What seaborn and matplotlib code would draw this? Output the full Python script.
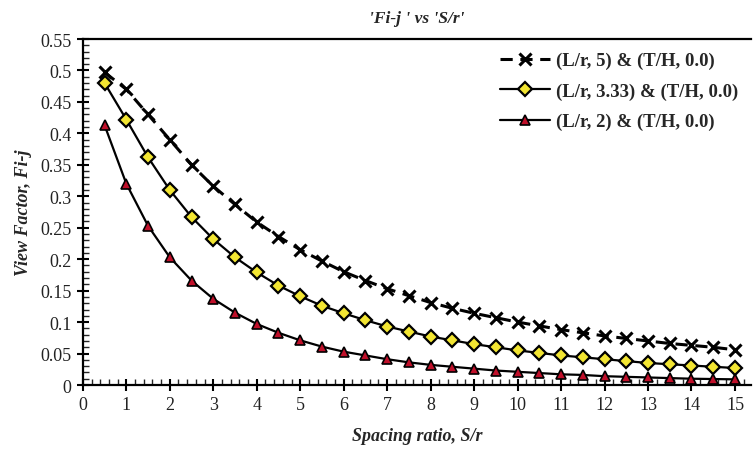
import numpy as np
import pandas as pd
import matplotlib
matplotlib.use("Agg")
import matplotlib.pyplot as plt
from matplotlib.ticker import MultipleLocator
import seaborn as sns

spacing = [0.5, 1, 1.5, 2, 2.5, 3, 3.5, 4, 4.5, 5, 5.5, 6, 6.5, 7, 7.5, 8,
           8.5, 9, 9.5, 10, 10.5, 11, 11.5, 12, 12.5, 13, 13.5, 14, 14.5, 15]
vf_lr5 = [0.497, 0.470, 0.430, 0.390, 0.350, 0.316, 0.287, 0.259, 0.236, 0.215,
          0.197, 0.180, 0.166, 0.153, 0.142, 0.131, 0.122, 0.114, 0.107, 0.100,
          0.094, 0.088, 0.083, 0.078, 0.074, 0.070, 0.066, 0.063, 0.060, 0.056]
vf_lr333 = [0.480, 0.422, 0.362, 0.310, 0.267, 0.232, 0.203, 0.179, 0.158, 0.141,
            0.126, 0.114, 0.103, 0.093, 0.085, 0.077, 0.071, 0.065, 0.060, 0.055,
            0.051, 0.047, 0.044, 0.041, 0.038, 0.035, 0.033, 0.031, 0.029, 0.027]
vf_lr2 = [0.413, 0.320, 0.253, 0.203, 0.166, 0.137, 0.115, 0.097, 0.083, 0.071,
          0.061, 0.053, 0.047, 0.041, 0.036, 0.032, 0.029, 0.026, 0.023, 0.021,
          0.019, 0.017, 0.016, 0.014, 0.013, 0.012, 0.011, 0.010, 0.0095, 0.009]
labels = ["(L/r, 5) & (T/H, 0.0)", "(L/r, 3.33) & (T/H, 0.0)", "(L/r, 2) & (T/H, 0.0)"]

sns.set_style("ticks")
plt.rcParams['font.family'] = ['Liberation Serif', 'DejaVu Serif']

fig = plt.figure(figsize=(7.53, 4.52), dpi=100)
ax = fig.add_axes([0.110, 0.146, 0.888, 0.7655])

df1 = pd.DataFrame({"x": spacing, "y": vf_lr5})
df2 = pd.DataFrame({"x": spacing, "y": vf_lr333})
df3 = pd.DataFrame({"x": spacing, "y": vf_lr2})

sns.lineplot(data=df1, x="x", y="y", ax=ax, color="black", lw=2.2,
             linestyle=(0, (4, 2.5)), marker="x", markersize=8, mew=2.2,
             mec="black", label=labels[0])
sns.lineplot(data=df2, x="x", y="y", ax=ax, color="black", lw=1.6,
             marker="D", markersize=7.5, mfc="#f2e532", mec="black", mew=1.6,
             label=labels[1])
sns.lineplot(data=df3, x="x", y="y", ax=ax, color="black", lw=1.6,
             marker="^", markersize=7, mfc="#c0102a", mec="black", mew=1.2,
             label=labels[2])

ax.set_xlim(0, 15.38)
ax.set_ylim(0, 0.55)
ax.xaxis.set_major_locator(MultipleLocator(1))
ax.xaxis.set_minor_locator(MultipleLocator(0.2))
ax.yaxis.set_major_locator(MultipleLocator(0.05))
ax.yaxis.set_minor_locator(MultipleLocator(0.01))
ax.set_yticks(np.arange(0, 0.5501, 0.05))
ax.set_yticklabels(["0", "0.05", "0.1", "0.15", "0.2", "0.25", "0.3", "0.35",
                    "0.4", "0.45", "0.5", "0.55"])
ax.tick_params(axis="both", which="major", direction="inout", length=9, width=1.5,
               labelsize=13, colors="black", labelcolor="#222222")
ax.tick_params(axis="both", which="minor", direction="in", length=4, width=1.0)
for s in ["left", "bottom", "top"]:
    ax.spines[s].set_linewidth(1.6)
    ax.spines[s].set_color("black")
ax.spines["right"].set_visible(False)
ax.tick_params(axis="x", which="both", top=False)
ax.tick_params(axis="y", which="both", right=False)

ax.set_xlabel("Spacing ratio, S/r", fontsize=13, fontweight="bold", style="italic",
              labelpad=10)
ax.set_ylabel("View Factor, Fi-j", fontsize=13, fontweight="bold", style="italic",
              labelpad=6)
ax.set_title("'Fi-j ' vs 'S/r'", fontsize=12.5, fontweight="bold", style="italic",
             pad=12)

leg = ax.legend(loc="upper right", frameon=False,
                prop={"weight": "bold", "size": 13.5}, handlelength=2.7,
                labelspacing=0.7, borderaxespad=0.3, handletextpad=0.3,
                bbox_to_anchor=(1.0, 1.0))

fig.savefig("out.png", dpi=100)
